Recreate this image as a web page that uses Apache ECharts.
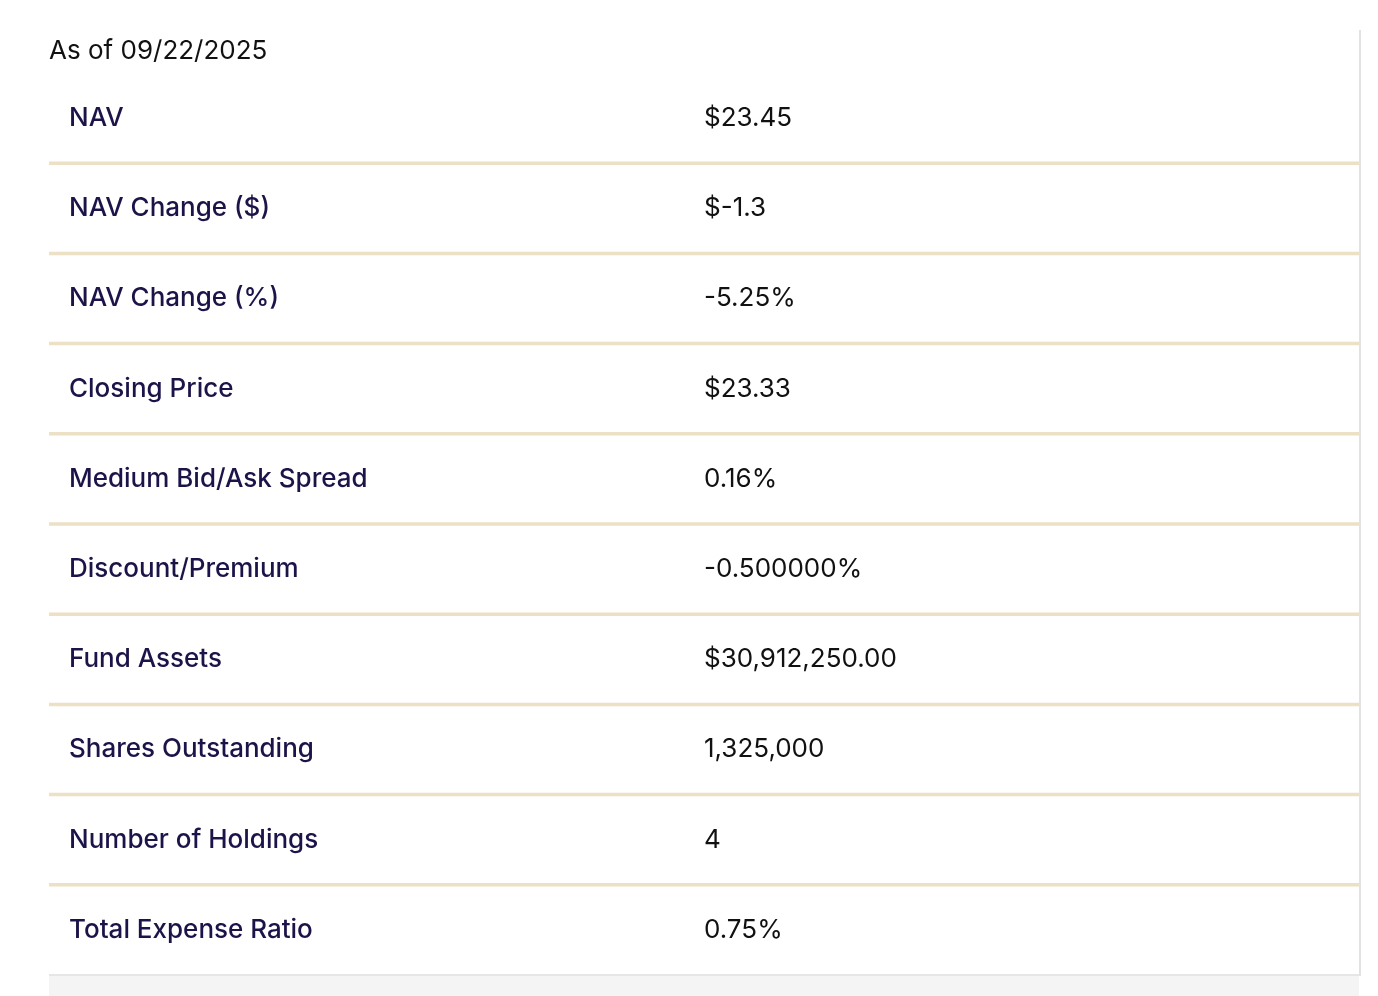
<!DOCTYPE html>
<html>
<head>
<meta charset="utf-8">
<script src="https://cdn.jsdelivr.net/npm/echarts@6/dist/echarts.min.js"></script>
<style>
html,body{margin:0;padding:0;background:#fff;}
#main{width:1378px;height:996px;}
</style>
</head>
<body>
<div id="main"></div>
<script>
var asOf = 'As of 09/22/2025';
var labels = ['NAV', 'NAV Change ($)', 'NAV Change (%)', 'Closing Price', 'Medium Bid/Ask Spread',
  'Discount/Premium', 'Fund Assets', 'Shares Outstanding', 'Number of Holdings', 'Total Expense Ratio'];
var values = ['$23.45', '$-1.3', '-5.25%', '$23.33', '0.16%',
  '-0.500000%', '$30,912,250.00', '1,325,000', '4', '0.75%'];

var chart = echarts.init(document.getElementById('main'));

// each row is one data item; position comes from the category axis
function renderRow(params, api) {
  var i = api.value(0);
  var c = api.coord([0, i]);
  var h = api.size([0, 1])[1];
  var x0 = params.coordSys.x;
  var x1 = params.coordSys.x + params.coordSys.width;
  var yb = c[1] + h / 2;
  var last = i === labels.length - 1;
  return {
    type: 'group',
    children: [
      { type: 'text', style: { x: 69, y: c[1], text: labels[i], fill: '#1c1449',
          font: '500 26px Inter, "Noto Sans", sans-serif', verticalAlign: 'middle' } },
      { type: 'text', style: { x: 704, y: c[1], text: values[i], fill: '#111',
          font: '400 26px Inter, "Noto Sans", sans-serif', verticalAlign: 'middle' } },
      { type: 'line', shape: { x1: x0, y1: yb, x2: x1, y2: yb },
        style: { stroke: last ? '#dedede' : '#ece0c5', lineWidth: last ? 1.5 : 3.5 } }
    ]
  };
}

chart.setOption({
  animation: false,
  grid: { left: 49, right: 19, top: 73, bottom: 21 },
  xAxis: { type: 'value', min: 0, max: 1, show: false },
  yAxis: { type: 'category', data: labels, inverse: true, show: false },
  graphic: [
    { type: 'rect', shape: { x: 49, y: 976, width: 1310, height: 20 }, style: { fill: '#f4f4f4' } },
    { type: 'line', shape: { x1: 1360, y1: 30, x2: 1360, y2: 976 }, style: { stroke: '#e2e2e2', lineWidth: 2 } },
    { type: 'text', left: 49, top: 38, style: { text: asOf, fill: '#111',
        font: '400 26px Inter, "Noto Sans", sans-serif' } }
  ],
  series: [{
    type: 'custom',
    renderItem: renderRow,
    data: labels.map(function (l, i) { return [i]; }),
    encode: { y: 0 }
  }]
});
</script>
</body>
</html>
